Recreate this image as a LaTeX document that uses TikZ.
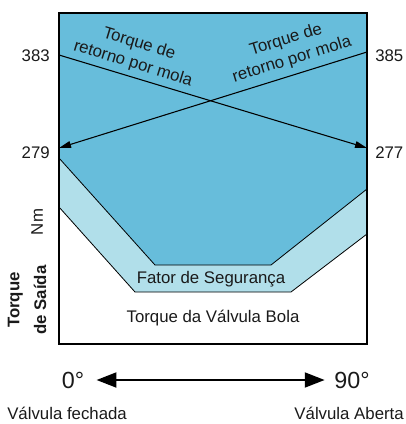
\documentclass[tikz,border=0pt]{standalone}
\usepackage{fontspec}
\setmainfont{Liberation Sans}
\usetikzlibrary{arrows.meta}
\definecolor{darkblue}{HTML}{67BDDB}
\definecolor{lightblue}{HTML}{B1DFEA}
\definecolor{txt}{HTML}{1A1A1A}
\begin{document}
\begin{tikzpicture}[x=0.75pt,y=-0.75pt,
  lbl/.style={font=\fontsize{12.6}{15.5}\selectfont, text=txt, inner sep=0pt},
  big/.style={font=\fontsize{17.5}{20}\selectfont, text=txt, inner sep=0pt},
  edge/.style={draw=black, line width=0.6pt},
  springline/.style={draw=black, line width=0.8pt, -{Triangle[length=9pt,width=5pt]}},
  dirarrow/.style={draw=black, line width=2.2pt, {Triangle[length=15pt,width=11pt]}-{Triangle[length=15pt,width=11pt]}}]
\useasboundingbox (0,0) rectangle (406,424);
% light band
\fill[lightblue] (59,13) -- (367,13) -- (367,234) -- (291,292) -- (135,292) -- (59,207) -- cycle;
\draw[edge] (367,234) -- (291,292) -- (135,292) -- (59,207);
% dark region
\fill[darkblue] (59,13) -- (367,13) -- (367,189) -- (271,265) -- (155,265) -- (59,158) -- cycle;
\draw[edge] (367,189) -- (271,265) -- (155,265) -- (59,158);
% box
\draw[black, line width=1.1pt] (59,13) rectangle (367,344);
% spring return lines
\coordinate (a383) at (59,55);
\coordinate (a277) at (367,148);
\coordinate (a385) at (367,52);
\coordinate (a279) at (59,148);
\draw[springline] (a383) -- (a277);
\draw[springline] (a385) -- (a279);
% values
\node[lbl, anchor=east] (v383) at (50,56) {383};
\node[lbl, anchor=east] (v279) at (50,153) {279};
\node[lbl, anchor=west] (v385) at (375,56) {385};
\node[lbl, anchor=west] (v277) at (375,153) {277};
% rotated labels
\node[lbl, align=center, rotate=-17] (tl) at (136,54) {Torque de\\retorno por mola};
\node[lbl, align=center, rotate=17] (tr) at (289,50) {Torque de\\retorno por mola};
% region labels
\node[lbl] (fs) at (211,279) {Fator de Segurança};
\node[lbl] (tv) at (213,318) {Torque da Válvula Bola};
% axis labels
\node[lbl, rotate=90] (nm) at (37,222) {Nm};
\node[lbl, rotate=90, align=center, font=\fontsize{12.6}{20}\selectfont\bfseries] (ts) at (27,300) {Torque\\de Saída};
% angle arrow
\node[big] (zero) at (73,380) {0°};
\node[big] (ninety) at (352,380) {90°};
\draw[dirarrow, shorten <=9pt, shorten >=7pt] (zero.east) -- (ninety.west);
\node[lbl, anchor=west] (vf) at (7,413) {Válvula fechada};
\node[lbl, anchor=east] (va) at (404,413) {Válvula Aberta};
\end{tikzpicture}
\end{document}
